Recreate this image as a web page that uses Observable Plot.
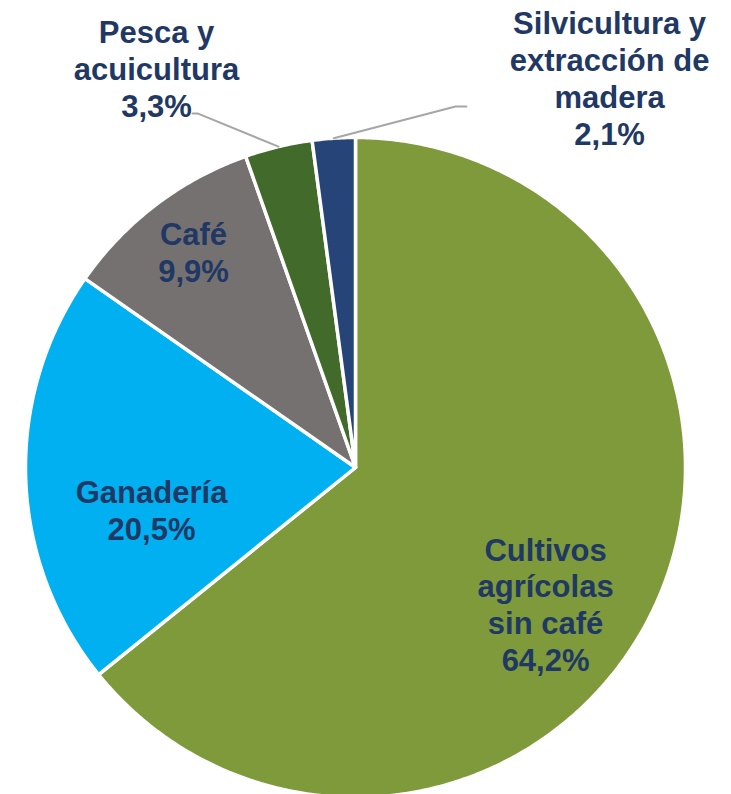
<!DOCTYPE html>
<html>
<head>
<meta charset="utf-8">
<script src="https://cdn.jsdelivr.net/npm/d3@7"></script>
<script src="https://cdn.jsdelivr.net/npm/@observablehq/plot@0.6"></script>
<style>
  html, body { margin: 0; padding: 0; background: #fff; }
  svg { display: block; }
</style>
</head>
<body>
<div id="chart"></div>
<script>
// ---- Data ----
const categories = ["Cultivos agrícolas sin café", "Ganadería", "Café", "Pesca y acuicultura", "Silvicultura y extracción de madera"];
const shares = [64.2, 20.5, 9.9, 3.3, 2.1];
const labelTexts = [
  "Cultivos\nagrícolas\nsin café\n64,2%",
  "Ganadería\n20,5%",
  "Café\n9,9%",
  "Pesca y\nacuicultura\n3,3%",
  "Silvicultura y\nextracción de\nmadera\n2,1%"
];
const colors = ["#7E9A3A", "#00B0F0", "#767171", "#426A2B", "#264478"];

// ---- Layout (unit-circle coordinates) ----
const labelAnchors = [[0.576, -0.414], [-0.618, -0.127], [-0.491, 0.653], [-0.603, 1.209], [0.770, 1.182]];
const leaderElbows = {3: [[-0.479, 1.073], [-0.494, 1.073]], 4: [[0.303, 1.094], [0.336, 1.094]]};

const cx = 355, cy = 467, R = 330;

// pie angles (clockwise from 12 o'clock)
const total = d3.sum(shares);
const slices = [];
let acc = 0;
shares.forEach((v, i) => {
  const a0 = acc / total * 2 * Math.PI;
  acc += v;
  const a1 = acc / total * 2 * Math.PI;
  slices.push({name: categories[i], a0, a1, mid: (a0 + a1) / 2});
});

// polygon points for each slice
const polyPts = [];
slices.forEach(s => {
  polyPts.push({name: s.name, x: 0, y: 0});
  const n = Math.max(4, Math.ceil((s.a1 - s.a0) / (Math.PI / 360)));
  for (let k = 0; k <= n; k++) {
    const a = s.a0 + (s.a1 - s.a0) * k / n;
    polyPts.push({name: s.name, x: Math.sin(a), y: Math.cos(a)});
  }
});

// leader lines
const leaderPts = [];
Object.entries(leaderElbows).forEach(([i, elbows]) => {
  const s = slices[+i];
  leaderPts.push({id: i, x: Math.sin(s.mid), y: Math.cos(s.mid)});
  elbows.forEach(([x, y]) => leaderPts.push({id: i, x, y}));
});

const labels = labelTexts.map((t, i) => ({text: t, x: labelAnchors[i][0], y: labelAnchors[i][1]}));

const chart = Plot.plot({
  width: 731,
  height: 794,
  margin: 0,
  style: {background: "#fff", overflow: "visible"},
  x: {type: "linear", domain: [-1, 1], range: [cx - R, cx + R], axis: null},
  y: {type: "linear", domain: [-1, 1], range: [cy + R, cy - R], axis: null},
  color: {domain: categories, range: colors},
  marks: [
    Plot.line(polyPts, {x: "x", y: "y", z: "name", fill: "name", stroke: "#fff", strokeWidth: 3.5, curve: "linear-closed", strokeLinejoin: "round"}),
    Plot.line(leaderPts, {x: "x", y: "y", z: "id", stroke: "#A6A6A6", strokeWidth: 2}),
    Plot.text(labels, {x: "x", y: "y", text: "text", fill: "#1F3864", fontSize: 31, fontWeight: "bold",
      fontFamily: "'Liberation Sans', Arial, sans-serif", lineHeight: 1.19, textAnchor: "middle", lineAnchor: "middle"})
  ]
});
document.getElementById("chart").appendChild(chart);
</script>
</body>
</html>
